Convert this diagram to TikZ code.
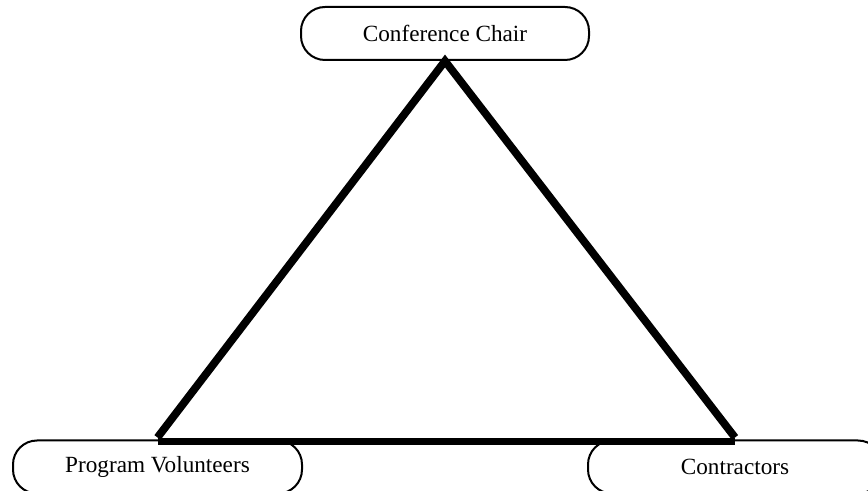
\documentclass[tikz,border=0pt]{standalone}
\usepackage{fontspec}
\setmainfont{Liberation Serif}

\tikzset{
  rolebox/.style={draw, line width=1pt, rounded corners=12pt, fill=white,
    minimum width=144pt, minimum height=26.5pt, inner sep=0pt,
    font=\fontsize{11.6}{14}\selectfont},
  side/.style={line width=3.9pt, line join=miter}
}

\begin{document}
\begin{tikzpicture}[x=0.5pt,y=-0.5pt]

\useasboundingbox (0,0) rectangle (868,491);

% Roles
\node[rolebox] (chair) at (445,33.5) {Conference Chair};
\node[rolebox, minimum width=144.5pt] (volunteers) at (157.5,467) {Program Volunteers};
\node[rolebox, minimum width=147pt] (contractors) at (735,467) {Contractors};

% Triangle
\draw[side] ([yshift=1pt]volunteers.north) -- (chair.south) -- ([yshift=1pt]contractors.north);
\draw[side] ([yshift=-1pt]volunteers.north) -- ([yshift=-1pt]contractors.north);

\end{tikzpicture}
\end{document}
